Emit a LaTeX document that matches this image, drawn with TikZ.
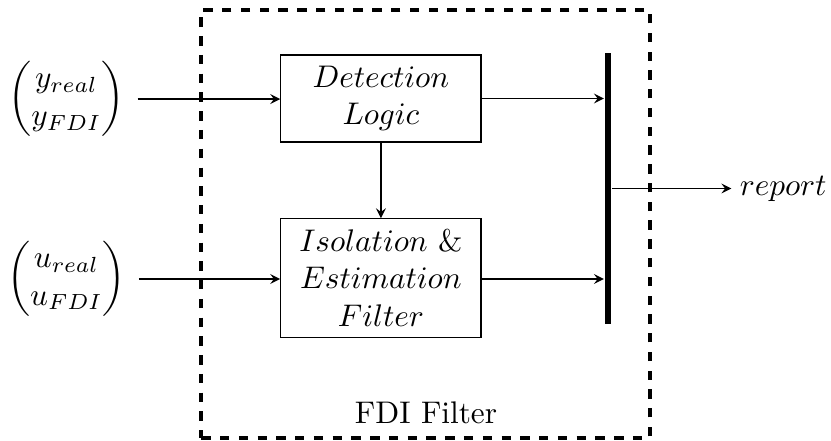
\documentclass[tikz,border=0pt]{standalone}
\usepackage{amsmath}
\usepackage{tikz}
\usetikzlibrary{positioning}

\begin{document}
\begin{tikzpicture}[>=stealth, block/.style = {draw, align=center, minimum width=2.25cm}, vec/.style = {inner sep=0.14cm}, node distance={15mm}]
        \useasboundingbox (0,0) rectangle (9.337,4.944);
        \node[draw, dashed, line width=1.4pt, minimum width=5.04cm, minimum height=4.81cm] (fdi) at (4.781,2.426) {};
        \node (lbl) at (4.787,0.31) {FDI Filter};
        \node[block, minimum height=0.98cm] (det) at (4.28,3.837) {$Detection$\\$Logic$};
        \node[block, minimum height=1.33cm] (iso) at (4.28,1.82) {$Isolation~\&$\\$Estimation$\\$Filter$};
        \node[fill, inner sep=0pt, minimum width=2.2pt, minimum height=3.05cm] (bar) at (6.831,2.826) {};
        \node[vec] (y) at (0.747,3.831) {$\begin{pmatrix} y_{real}\\ y_{FDI}\end{pmatrix}$};
        \node[vec] (u) at (0.747,1.809) {$\begin{pmatrix} u_{real}\\ u_{FDI}\end{pmatrix}$};
        \node (rep) [anchor=west, inner sep=1pt] at (8.27,2.826) {$report$};
        \draw[->] (y.east) -- (y -| det.west);
        \draw[->] (u.east) -- (u -| iso.west);
        \draw[->] (det) -- (iso);
        \draw[->] (det) -- (det -| bar.west);
        \draw[->] (iso.east |- u) -- (u -| bar.west);
        \draw[->] (bar) -- ([xshift=-1.5pt]rep.west);
\end{tikzpicture}
\end{document}
